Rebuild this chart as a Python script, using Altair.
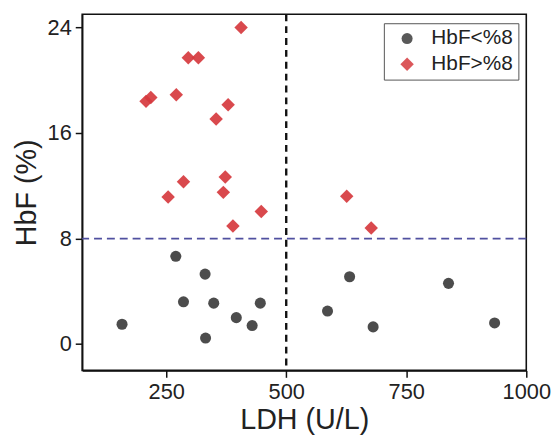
import altair as alt
import pandas as pd

low_ldh = [158, 270, 331, 286, 349, 446, 396, 429, 332, 632, 586, 681, 838, 934]
low_hbf = [1.5, 6.65, 5.3, 3.2, 3.1, 3.1, 2.0, 1.4, 0.45, 5.1, 2.5, 1.3, 4.6, 1.6]

high_ldh = [406, 296, 317, 208, 218, 271, 379, 354, 286, 254, 373, 369, 448, 389, 626, 677]
high_hbf = [24.0, 21.7, 21.7, 18.4, 18.7, 18.9, 18.15, 17.07, 12.3, 11.15, 12.66, 11.5, 10.05, 8.95, 11.2, 8.8]

groups = ["HbF<%8", "HbF>%8"]
colors = ["#3d3d3d", "#d63a3e"]
shapes = ["circle", "diamond"]
sizes = [125, 185]

x_ticks = [250, 500, 750, 1000]
y_ticks = [0, 8, 16, 24]
v_cut = [500]
h_cut = [8]

df = pd.DataFrame({
    "LDH": low_ldh + high_ldh,
    "HbF": low_hbf + high_hbf,
    "group": [groups[0]] * len(low_ldh) + [groups[1]] * len(high_ldh),
})

FONT = "Liberation Sans"

xscale = alt.Scale(domain=[75, 1000], nice=False, zero=False)
yscale = alt.Scale(domain=[-2, 25], nice=False, zero=False)

points = alt.Chart(df).mark_point(filled=True, opacity=0.92).encode(
    x=alt.X("LDH:Q", scale=xscale, title="LDH (U/L)",
            axis=alt.Axis(values=x_ticks, grid=False, format="d", labelFlush=False)),
    y=alt.Y("HbF:Q", scale=yscale, title="HbF (%)",
            axis=alt.Axis(values=y_ticks, grid=False, format="d", labelFlush=False)),
    color=alt.Color("group:N", scale=alt.Scale(domain=groups, range=colors),
                    legend=alt.Legend(title=None, orient="none", legendX=305, legendY=9,
                                      strokeColor="#555", fillColor="white",
                                      padding=5, labelFontSize=21, labelFont=FONT,
                                      labelColor="#222", symbolSize=130,
                                      rowPadding=4, symbolOffset=8, labelOffset=14,
                                      symbolOpacity=1)),
    shape=alt.Shape("group:N", scale=alt.Scale(domain=groups, range=shapes)),
    size=alt.Size("group:N", scale=alt.Scale(domain=groups, range=sizes), legend=None),
)

vline = alt.Chart(pd.DataFrame({"v": v_cut})).mark_rule(
    color="#111", strokeDash=[7, 5], strokeWidth=2.4).encode(x=alt.X("v:Q", scale=xscale))
hline = alt.Chart(pd.DataFrame({"h": h_cut})).mark_rule(
    color="#5050a0", strokeDash=[8, 5], strokeWidth=1.8).encode(y=alt.Y("h:Q", scale=yscale))

chart = alt.layer(vline, hline, points).properties(
    width=449, height=360,
    autosize="none",
    padding={"left": 75, "top": 4, "right": 26, "bottom": 70},
).configure_view(
    stroke="#111", strokeWidth=1.6
).configure_axis(
    domainColor="#111", domainWidth=1.6, tickColor="#111", tickWidth=1.5, tickSize=7,
    labelFont=FONT, labelFontSize=22, labelColor="#222", labelPadding=4,
    titleFont=FONT, titleFontSize=29, titleFontWeight="normal", titleColor="#222",
).configure_axisX(titlePadding=4).configure_axisY(titlePadding=6)

chart.save("out.html", embed_options={"renderer": "svg", "actions": False})
